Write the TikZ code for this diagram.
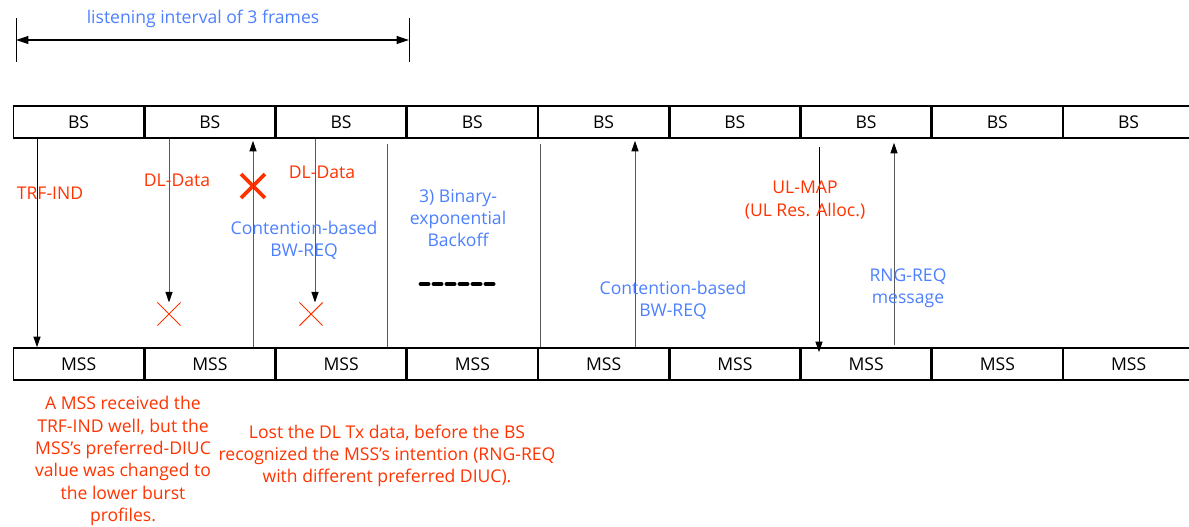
\documentclass[tikz,border=0pt]{standalone}
\usepackage{fontspec}
\setmainfont{Open Sans}
\usepackage{xcolor}
\usetikzlibrary{arrows.meta,shapes.misc,calc}

\definecolor{msgred}{RGB}{255,51,0}
\definecolor{msgblue}{RGB}{77,128,255}

\begin{document}
\begin{tikzpicture}[
  font=\fontsize{10}{12.7}\selectfont,
  frame/.style={draw=black, line width=0.9pt, minimum width=2.6cm,
                minimum height=0.64cm, inner sep=0pt},
  msg/.style={line width=0.5pt, draw=black!65,
              -{Triangle[length=6pt, width=4pt, color=black]}},
  sep/.style={line width=0.5pt, draw=black!65},
  redtxt/.style={text=msgred, align=center},
  bluetxt/.style={text=msgblue, align=center},
  lost/.style={cross out, draw=msgred, line width=0.6pt,
               minimum size=0.44cm, inner sep=0pt},
  lostbig/.style={cross out, draw=msgred, line width=2.2pt,
                  minimum size=0.4cm, inner sep=0pt}
]
\useasboundingbox (0,0) rectangle (23.78,-10.54);

% frames
\foreach \i in {1,...,9} {
  \node[frame] (bs\i)  at ({1.572+2.625*(\i-1)}, -2.44) {BS};
  \node[frame] (mss\i) at ({1.572+2.625*(\i-1)}, -7.28) {MSS};
}

% listening interval
\coordinate (li1) at (0.32,-0.36);
\coordinate (li2) at (8.18,-0.36);
\draw[line width=0.5pt] (li1) -- ++(0,-0.88);
\draw[line width=0.5pt] (li2) -- ++(0,-0.88);
\draw[line width=0.6pt, {Triangle[length=7pt, width=4.5pt]}-{Triangle[length=7pt, width=4.5pt]}]
  ($(li1)+(0,-0.44)$) -- ($(li2)+(0,-0.44)$);
\node[bluetxt] (li) at (4.06,-0.38) {listening interval of 3 frames};

% lost marks
\node[lost] (x1) at (3.38,-6.28) {};
\node[lost] (x2) at (6.22,-6.28) {};
\node[lostbig] (x3) at (5.06,-3.72) {};

% message positions
\coordinate (trf) at (0.74,0);
\coordinate (dl1) at (3.38,0);
\coordinate (bw1) at (5.06,0);
\coordinate (dl2) at (6.30,0);
\coordinate (s1)  at (7.74,0);
\coordinate (s2)  at (10.80,0);
\coordinate (bw2) at (12.70,0);
\coordinate (ulm) at (16.38,0);
\coordinate (rng) at (17.88,0);

\draw[msg, draw=black] (bs1.south -| trf) -- (mss1.north -| trf);
\draw[msg] (bs2.south -| dl1) -- (x1.north);
\draw[msg] (mss2.north -| bw1) -- ($(bs2.south -| bw1)+(0,-0.04)$);
\draw[msg] (bs3.south -| dl2) -- ($(x2.north -| dl2)$);
\draw[sep] ($(bs3.south -| s1)+(0,-0.1)$) -- (mss3.north -| s1);
\draw[sep] ($(bs5.south -| s2)+(0,-0.1)$) -- (mss5.north -| s2);
\draw[msg] (mss5.north -| bw2) -- ($(bs5.south -| bw2)+(0,-0.04)$);
\draw[msg, draw=black] ($(bs7.south -| ulm)+(0,-0.16)$) -- ($(mss7.north -| ulm)+(0,-0.1)$);
\draw[msg] ($(mss7.north -| rng)+(0,0.04)$) -- ($(bs7.south -| rng)+(0,-0.08)$);

% backoff dashes
\draw[line width=2.8pt, dash pattern=on 4pt off 3.4pt, line cap=round]
  (8.42,-5.68) -- (9.90,-5.68);

% labels
\node[redtxt]  (ltrf) at (1.00,-3.86) {TRF-IND};
\node[redtxt]  (ldl1) at (3.54,-3.60) {DL-Data};
\node[redtxt]  (ldl2) at (6.44,-3.44) {DL-Data};
\node[bluetxt] (lbw1) at (6.08,-4.80) {Contention-based\\BW-REQ};
\node[bluetxt] (lbo)  at (9.16,-4.36) {3) Binary-\\exponential\\Backoff};
\node[bluetxt] (lbw2) at (13.46,-6.00) {Contention-based\\BW-REQ};
\node[redtxt]  (lulm) at (16.10,-4.00) {UL-MAP\\(UL Res. Alloc.)};
\node[bluetxt] (lrng) at (18.16,-5.76) {RNG-REQ\\message};

% notes
\node[redtxt] (n1) at (2.46,-9.22) {A MSS received the\\TRF-IND well, but the\\MSS's preferred-DIUC\\value was changed to\\the lower burst\\profiles.};
\node[redtxt] (n2) at (7.74,-9.12) {Lost the DL Tx data, before the BS\\recognized the MSS's intention (RNG-REQ\\with different preferred DIUC).};
\end{tikzpicture}
\end{document}
